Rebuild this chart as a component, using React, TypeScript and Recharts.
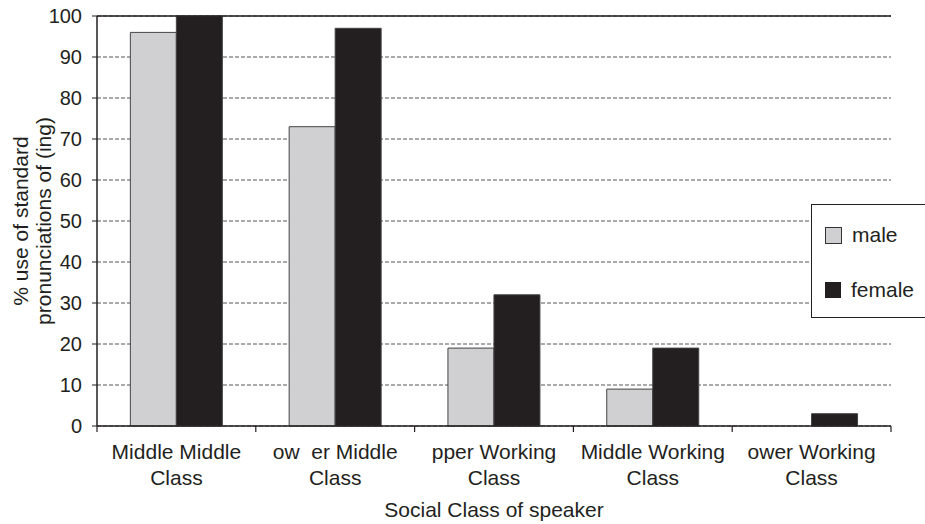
import React from 'react';
import {
  BarChart,
  Bar,
  XAxis,
  YAxis,
  CartesianGrid,
  ReferenceLine,
  Label
} from 'recharts';

const categories = [
  ['Middle Middle', 'Class'],
  ['ow  er Middle', 'Class'],
  ['pper Working', 'Class'],
  ['Middle Working', 'Class'],
  ['ower Working', 'Class']
];
const maleValues = [96, 73, 19, 9, 0];
const femaleValues = [100, 97, 32, 19, 3];
const yTicks = [0, 10, 20, 30, 40, 50, 60, 70, 80, 90, 100];

const FONT = '"Liberation Sans", Arial, sans-serif';
const MALE = '#d0d0d2';
const FEMALE = '#231f20';
const INK = '#231f20';

const data = categories.map((c, i) => ({
  name: c.join(' '),
  lines: c,
  male: maleValues[i],
  female: femaleValues[i]
}));

// category label in two lines, plus the tick marks at the band edges
const CategoryTick = (props: any) => {
  const { x, y, payload, index } = props;
  const lines = data[index]?.lines ?? [payload.value];
  const half = payload.offset ?? 0;
  const last = index === data.length - 1;
  return (
    <g transform={`translate(${x},${y})`}>
      <line x1={-half} x2={-half} y1={0} y2={6} stroke={INK} strokeWidth={1.2} />
      {last && <line x1={half} x2={half} y1={0} y2={6} stroke={INK} strokeWidth={1.2} />}
      {lines.map((l: string, i: number) => (
        <text key={i} x={0} y={26 + i * 25.5} dy="0.35em" textAnchor="middle"
          fill={INK} fontSize={21} fontFamily={FONT} style={{ whiteSpace: 'pre' }}>
          {l}
        </text>
      ))}
    </g>
  );
};

const YTitle = (props: any) => {
  const vb = props.viewBox;
  const cy = vb.y + vb.height / 2;
  return (
    <g fontFamily={FONT} fontSize={21} fill={INK}>
      <text x={20} y={cy} textAnchor="middle" dominantBaseline="central"
        transform={`rotate(-90, 20, ${cy})`}>% use of standard</text>
      <text x={43} y={cy} textAnchor="middle" dominantBaseline="central"
        transform={`rotate(-90, 43, ${cy})`}>pronunciations of (ing)</text>
    </g>
  );
};

const LegendBox = () => (
  <div style={{
    position: 'absolute', left: 811, top: 204, width: 120, height: 114,
    border: '1.5px solid ' + INK, background: '#fff',
    fontFamily: FONT, fontSize: 21, color: INK, boxSizing: 'border-box',
    paddingLeft: 13, paddingTop: 16
  }}>
    <div style={{ display: 'flex', alignItems: 'center', height: 28 }}>
      <span style={{ width: 15, height: 15, background: MALE, border: '1px solid #333', marginRight: 10 }} />
      male
    </div>
    <div style={{ display: 'flex', alignItems: 'center', height: 28, marginTop: 27 }}>
      <span style={{ width: 16, height: 16, background: FEMALE, marginRight: 10 }} />
      female
    </div>
  </div>
);

export default function App() {
  return (
    <div style={{ position: 'absolute', left: 0, top: 0, width: 925, height: 524, background: '#fff' }}>
      <BarChart width={925} height={524} data={data}
        margin={{ top: 16, right: 34, bottom: 0, left: 0 }}
        barCategoryGap="21%" barGap={0}>
        <CartesianGrid vertical={false} stroke="#555" strokeDasharray="4 2" />
        <XAxis dataKey="name" height={98} tickLine={false} tickSize={0} tickMargin={0}
          axisLine={{ stroke: INK, strokeWidth: 1.5 }} tick={<CategoryTick />} interval={0}>
          <Label value="Social Class of speaker" position="insideBottom" offset={7}
            style={{ fontFamily: FONT, fontSize: 21, fill: INK }} />
        </XAxis>
        <YAxis width={97} domain={[0, 100]} ticks={yTicks} interval={0}
          axisLine={{ stroke: INK, strokeWidth: 1.5 }} tickLine={{ stroke: INK }}
          tickSize={5} tickMargin={10}
          tick={{ fontFamily: FONT, fontSize: 20, fill: INK }}>
          <Label content={<YTitle />} />
        </YAxis>
        <YAxis yAxisId="r" orientation="right" width={0} tick={false} tickLine={false}
          axisLine={{ stroke: INK, strokeWidth: 1.5 }} domain={[0, 100]} />
        <ReferenceLine y={100} stroke={INK} strokeWidth={1.5} />
        <Bar dataKey="male" name="male" fill={MALE} stroke="#444" strokeWidth={1} isAnimationActive={false} />
        <Bar dataKey="female" name="female" fill={FEMALE} stroke="#444" strokeWidth={1} isAnimationActive={false} />
      </BarChart>
      <LegendBox />
    </div>
  );
}
